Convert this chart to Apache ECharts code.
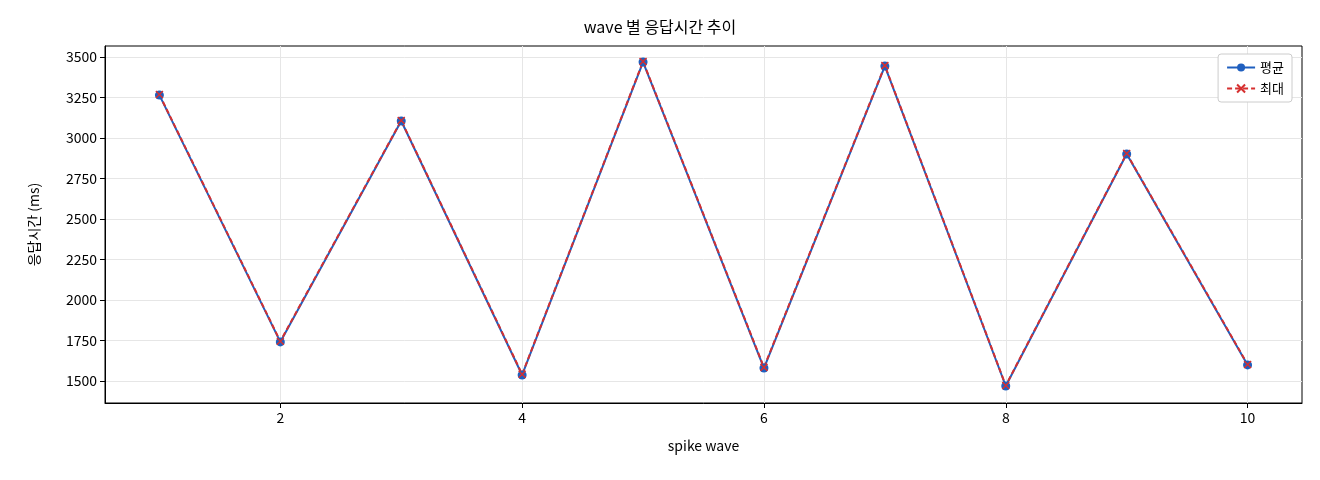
<!DOCTYPE html>
<html><head><meta charset="utf-8">
<script src="https://cdn.jsdelivr.net/npm/echarts@6/dist/echarts.min.js"></script>
<style>body{margin:0}#c{width:1320px;height:480px}</style></head>
<body><div id="c"></div>
<script>
const waves=[1,2,3,4,5,6,7,8,9,10];
const avgVals=[3265,1741,3105,1537,3469,1580,3444,1469,2901,1599];
const maxVals=[3268,1745,3108,1541,3472,1584,3447,1472,2904,1602];
const xTicks=[2,4,6,8,10];
const yTicks=[1500,1750,2000,2250,2500,2750,3000,3250,3500];
const F='"Noto Sans CJK KR","DejaVu Sans",sans-serif';
const chart=echarts.init(document.getElementById('c'));
chart.setOption({
 animation:false,
 title:{text:'wave 별 응답시간 추이',left:'center',top:14,textStyle:{fontFamily:F,fontSize:16,fontWeight:'normal',color:'#000'}},
 legend:{right:28,top:54,orient:'vertical',itemGap:8,backgroundColor:'#fff',borderColor:'#ccc',borderWidth:1,borderRadius:3,padding:[7,8],
  textStyle:{fontFamily:F,fontSize:13,color:'#000'},itemWidth:28,itemHeight:10,
  data:[{name:'평균'},{name:'최대'}]},
 grid:{left:105,right:18,top:46,bottom:77,show:true,borderColor:'#000',borderWidth:1,backgroundColor:'transparent'},
 xAxis:{type:'value',min:0.55,max:10.45,name:'spike wave',nameLocation:'middle',nameGap:36,
  nameTextStyle:{fontFamily:F,fontSize:14,color:'#000'},
  axisLine:{onZero:false,lineStyle:{color:'#000'}},
  axisTick:{customValues:xTicks,length:5,lineStyle:{color:'#000'}},
  axisLabel:{customValues:xTicks,fontFamily:F,fontSize:14,color:'#000'},
  splitLine:{show:true,lineStyle:{color:'#e6e6e6'}}},
 yAxis:{type:'value',min:1364,max:3568,name:'응답시간 (ms)',nameLocation:'middle',nameGap:64,
  nameTextStyle:{fontFamily:F,fontSize:14,color:'#000'},
  axisLine:{show:true,lineStyle:{color:'#000'}},
  axisTick:{show:true,customValues:yTicks,length:5,lineStyle:{color:'#000'}},
  axisLabel:{customValues:yTicks,formatter:v=>String(v),fontFamily:F,fontSize:14,color:'#000'},
  splitLine:{show:true,lineStyle:{color:'#e6e6e6'}}},
 series:[
  {name:'평균',type:'line',data:waves.map((w,i)=>[w,avgVals[i]]),symbol:'circle',symbolSize:9,
   itemStyle:{color:'#1f5fbf'},lineStyle:{color:'#1f5fbf',width:2}},
  {name:'최대',type:'line',data:waves.map((w,i)=>[w,maxVals[i]]),
   symbol:'path://M-1,-1L1,1M1,-1L-1,1',symbolSize:7,
   itemStyle:{color:'#d62f2f',borderColor:'#d62f2f',borderWidth:1.5},
   lineStyle:{color:'#d62f2f',width:2,type:[5,3]}}
 ]
});
</script></body></html>
